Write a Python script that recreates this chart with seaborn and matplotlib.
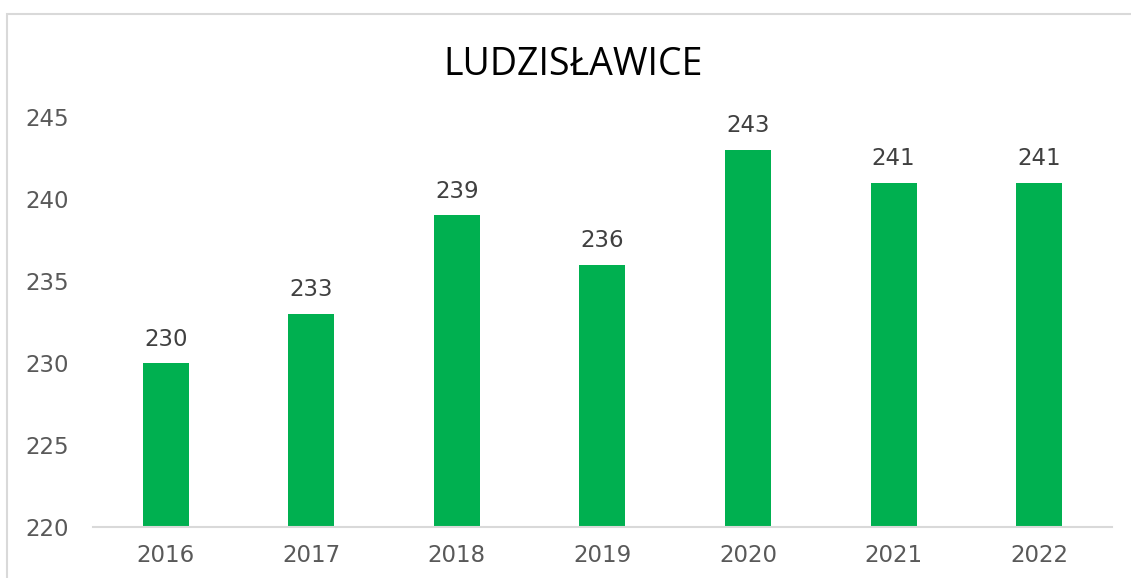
import matplotlib
matplotlib.use("Agg")
import matplotlib.pyplot as plt
import pandas as pd
import seaborn as sns
from matplotlib.patches import Rectangle

years = ["2016", "2017", "2018", "2019", "2020", "2021", "2022"]
values = [230, 233, 239, 236, 243, 241, 241]
title = "LUDZISŁAWICE"

df = pd.DataFrame({"Rok": years, "Liczba": values})

sns.set_theme(style="white")
plt.rcParams["font.family"] = ["DejaVu Sans"]

fig = plt.figure(figsize=(11.31, 5.78), dpi=100)
ax = fig.add_axes([0.0822, 0.0882, 0.9010, 0.7094])

sns.barplot(data=df, x="Rok", y="Liczba", color="#00B050", saturation=1,
            width=0.316, linewidth=0, ax=ax)

ax.set_ylim(220, 245)
ax.set_yticks([220, 225, 230, 235, 240, 245])
ax.set_xlabel("")
ax.set_ylabel("")
for s in ["top", "right", "left"]:
    ax.spines[s].set_visible(False)
ax.spines["bottom"].set_color("#D9D9D9")
ax.spines["bottom"].set_linewidth(1.5)
ax.tick_params(axis="both", length=0, labelsize=16.5, colors="#595959")
ax.tick_params(axis="x", pad=12)
ax.tick_params(axis="y", pad=49)
for lbl in ax.get_yticklabels():
    lbl.set_horizontalalignment("left")

for c in ax.containers:
    ax.bar_label(c, labels=[str(v) for v in values], padding=9,
                 fontsize=16.5, color="#404040")

fig.text(0.507, 0.888, title, ha="center", va="center", fontsize=27,
         color="black", family=["Open Sans", "DejaVu Sans"])

fig.patches.append(Rectangle((0.0062, -0.05), 1.05, 1.026,
                             transform=fig.transFigure, fill=False,
                             edgecolor="#D9D9D9", linewidth=1.5))

fig.savefig("out.png", dpi=100, facecolor="white")
